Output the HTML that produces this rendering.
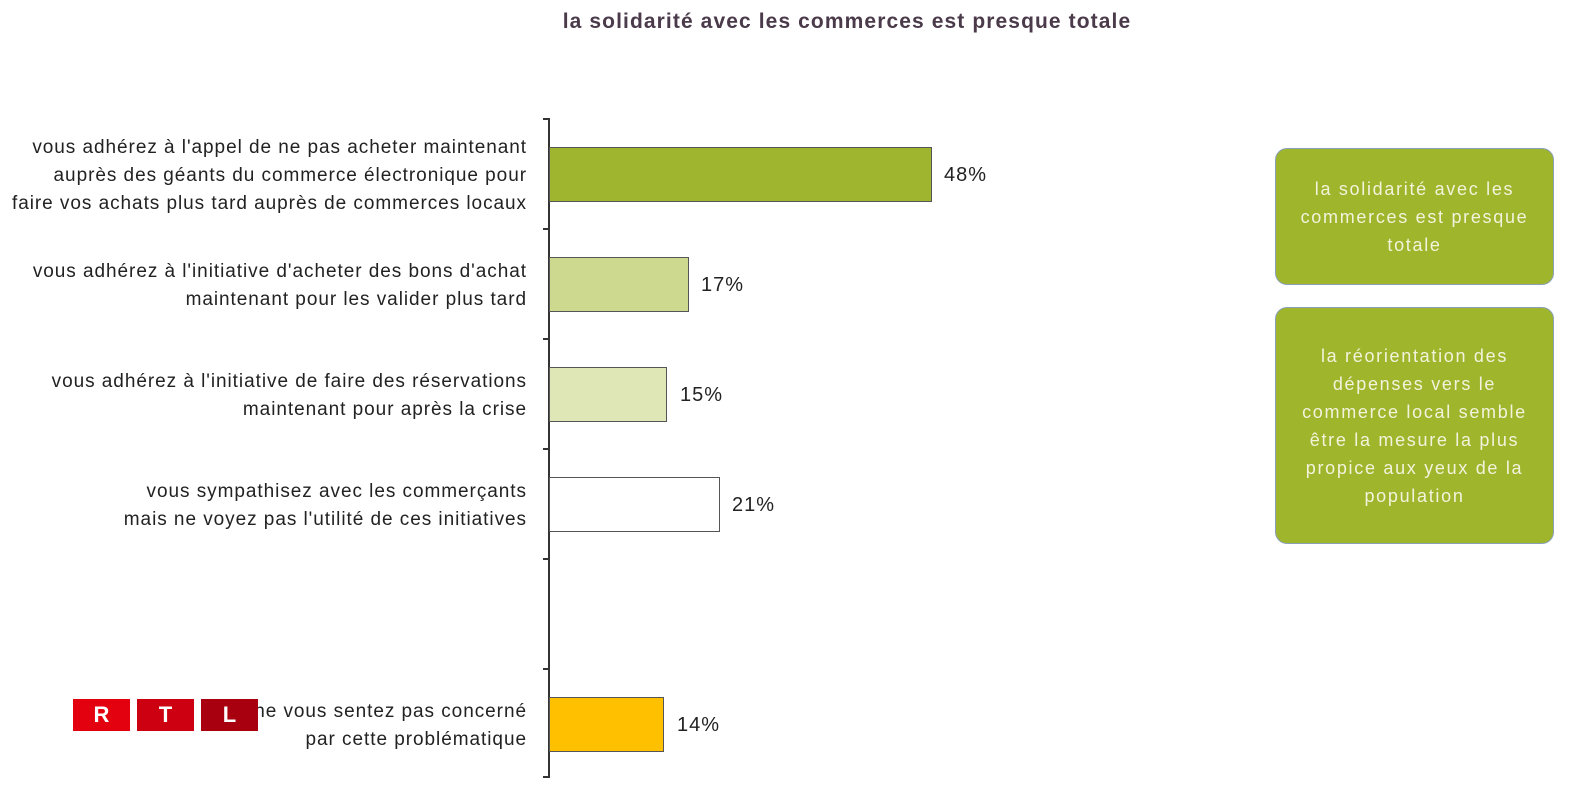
<!DOCTYPE html>
<html><head><meta charset="utf-8"><style>
body{margin:0;width:1572px;height:806px;background:#fff;position:relative;overflow:hidden;font-family:"Liberation Sans",sans-serif}
.a{position:absolute}
.lbl{position:absolute;right:1045px;text-align:right;font-size:19px;line-height:28px;color:#222;white-space:nowrap;letter-spacing:0.95px}
.bar{position:absolute;left:549px;border:1.5px solid #555;box-sizing:border-box}
.val{position:absolute;font-size:20px;color:#222;letter-spacing:1px}
.tick{position:absolute;left:543px;width:7px;height:1.5px;background:#333}
.box{position:absolute;left:1275px;width:279px;background:#9fb52c;border:1.5px solid #8aa0b8;border-radius:12px;box-sizing:border-box;color:#f3f3dc;font-size:18px;line-height:28px;text-align:center;display:flex;align-items:center;justify-content:center;letter-spacing:1.7px}
.r{position:absolute;top:699px;width:57px;height:32px;color:#fff;font-weight:bold;font-size:22px;text-align:center;line-height:32px}
</style></head><body>
<div class="a" style="left:0;width:1694px;top:10px;text-align:center;font-size:21px;font-weight:bold;color:#4a3a4a;letter-spacing:1.1px">la solidarité avec les commerces est presque totale</div>
<div class="a" style="left:548px;top:118px;width:1.5px;height:659px;background:#333"></div>
<div class="tick" style="top:118px"></div><div class="tick" style="top:228px"></div><div class="tick" style="top:338px"></div><div class="tick" style="top:448px"></div><div class="tick" style="top:558px"></div><div class="tick" style="top:668px"></div><div class="tick" style="top:776px"></div>
<div class="lbl" style="top:134px">vous adhérez à l'appel de ne pas acheter maintenant<br>auprès des géants du commerce électronique pour<br>faire vos achats plus tard auprès de commerces locaux</div>
<div class="lbl" style="top:258px">vous adhérez à l'initiative d'acheter des bons d'achat<br>maintenant pour les valider plus tard</div>
<div class="lbl" style="top:368px">vous adhérez à l'initiative de faire des réservations<br>maintenant pour après la crise</div>
<div class="lbl" style="top:478px">vous sympathisez avec les commerçants<br>mais ne voyez pas l'utilité de ces initiatives</div>
<div class="lbl" style="top:698px">ne vous sentez pas concerné<br>par cette problématique</div>
<div class="bar" style="top:147px;width:383px;height:55px;background:#9fb52f"></div>
<div class="bar" style="top:257px;width:140px;height:55px;background:#ccd98f"></div>
<div class="bar" style="top:367px;width:118px;height:55px;background:#dfe7b6"></div>
<div class="bar" style="top:477px;width:171px;height:55px;background:#fff"></div>
<div class="bar" style="top:697px;width:115px;height:55px;background:#ffc000"></div>
<div class="val" style="left:944px;top:164px">48%</div>
<div class="val" style="left:701px;top:274px">17%</div>
<div class="val" style="left:680px;top:384px">15%</div>
<div class="val" style="left:732px;top:494px">21%</div>
<div class="val" style="left:677px;top:714px">14%</div>
<div class="box" style="top:148px;height:137px">la solidarité avec les<br>commerces est presque<br>totale</div>
<div class="box" style="top:307px;height:237px">la réorientation des<br>dépenses vers le<br>commerce local semble<br>être la mesure la plus<br>propice aux yeux de la<br>population</div>
<div class="r" style="left:73px;background:#e3000f">R</div>
<div class="r" style="left:137px;background:#cc0010">T</div>
<div class="r" style="left:201px;background:#a8000f">L</div>
</body></html>
